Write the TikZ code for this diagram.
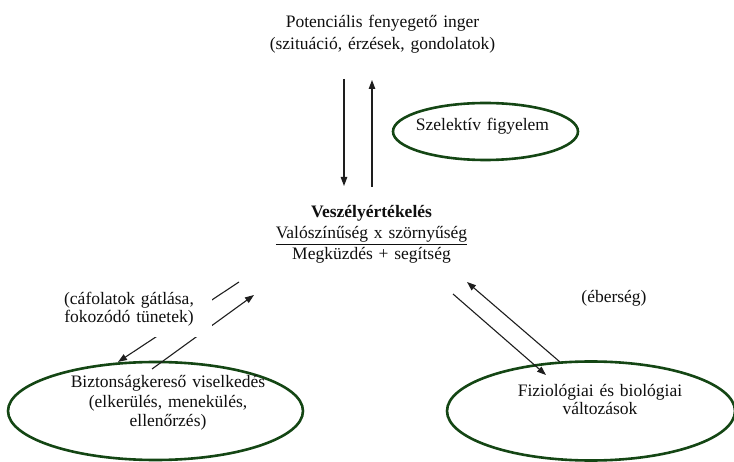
\documentclass[tikz,border=0pt]{standalone}
\usepackage{fontspec}
\setmainfont{Liberation Serif}
\usetikzlibrary{shapes.geometric,arrows.meta}
\definecolor{ovalgreen}{RGB}{20,70,20}
\definecolor{arrowgray}{RGB}{30,30,30}
\definecolor{textgray}{RGB}{15,15,15}
\begin{document}
\begin{tikzpicture}[x=1pt,y=-1pt,
  txt/.style={font=\fontsize{17.5}{20}\selectfont, text=textgray, inner sep=0pt,
              align=center, text width=#1, anchor=base},
  oval/.style={ellipse, draw=ovalgreen, line width=2.6pt, inner sep=0pt},
  arr/.style={draw=arrowgray, line width=1.1pt, -{Triangle[length=9pt,width=6.5pt]}}
]
\useasboundingbox (0,0) rectangle (734,462);

% text blocks
\node[txt=320pt, font=\fontsize{17.5}{22}\selectfont] (inger) at (382.5,28)
  {Potenciális fenyegető inger\\(szituáció, érzések, gondolatok)};
\node[txt=320pt, font=\fontsize{17.5}{21}\selectfont] (veszely) at (371.5,218)
  {\textbf{Veszélyértékelés}\\\underline{Valószínűség x szörnyűség}\\Megküzdés + segítség};

% ellipses
\node[oval, minimum width=185pt, minimum height=57pt] (szelektiv) at (485.5,131.5) {};
\node[txt=200pt] (szelT) at (482.5,131) {Szelektív figyelem};
\node[oval, minimum width=295pt, minimum height=98pt] (bizt) at (155.5,411) {};
\node[txt=260pt, font=\fontsize{17.5}{19.5}\selectfont] (biztT) at (168,388)
  {Biztonságkereső viselkedés\\(elkerülés, menekülés,\\ellenőrzés)};
\node[oval, minimum width=288pt, minimum height=99pt] (fiz) at (591,411) {};
\node[txt=240pt, font=\fontsize{17.5}{18.5}\selectfont] (fizT) at (600,396)
  {Fiziológiai és biológiai\\változások};
\node[txt=120pt] (eber) at (614,303) {(éberség)};

% connector end points
\coordinate (v1a) at (344,79);  \coordinate (v1b) at (344,186);
\coordinate (v2a) at (372,187); \coordinate (v2b) at (372,80);
\coordinate (l1a) at (239,282); \coordinate (l1b) at (118,362);
\coordinate (l2a) at (152,369); \coordinate (l2b) at (254,295);
\coordinate (r1a) at (560,362); \coordinate (r1b) at (467,282);
\coordinate (r2a) at (453,294); \coordinate (r2b) at (546,375);

\draw[arr] (v1a) -- (v1b);
\draw[arr] (v2a) -- (v2b);
\draw[arr] (l1a) -- (l1b);
\draw[arr] (l2a) -- (l2b);
\draw[arr] (r1a) -- (r1b);
\draw[arr] (r2a) -- (r2b);

% label box (white, covers the middle of the left arrows)
\node[txt=150pt, font=\fontsize{17.5}{18}\selectfont, fill=white,
      inner xsep=8pt, inner ysep=10pt] (cafol) at (129,305)
  {(cáfolatok gátlása,\\fokozódó tünetek)};
\end{tikzpicture}
\end{document}
